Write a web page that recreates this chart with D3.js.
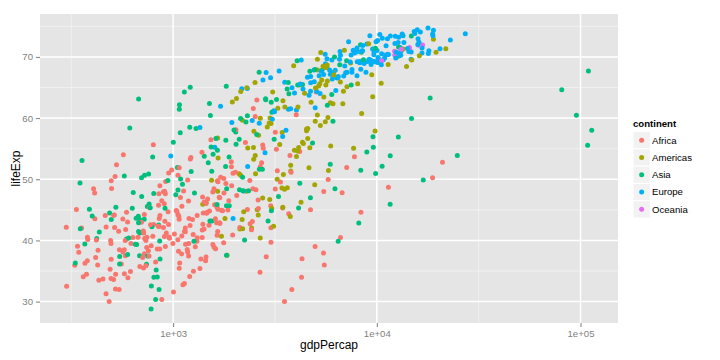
<!DOCTYPE html>
<html><head><meta charset="utf-8">
<script src="https://cdn.jsdelivr.net/npm/d3@7"></script>
<style>body{margin:0;background:#fff} text{font-family:"Liberation Sans",Arial,Helvetica,sans-serif}</style>
</head><body>
<svg id="chart" width="720" height="360"></svg>
<script>
const years = [1952, 1957, 1962, 1967, 1972];
const continents = ["Africa", "Americas", "Asia", "Europe", "Oceania"];
const continentColors = ["#F8766D", "#A3A500", "#00BF7D", "#00B0F6", "#E76BF3"];
const xTicks = [1e3, 1e4, 1e5];
const xTickLabels = ["1e+03", "1e+04", "1e+05"];
const yTicks = [30, 40, 50, 60, 70];

const countries = [
"Afghanistan","Albania","Algeria","Angola","Argentina","Australia","Austria","Bahrain","Bangladesh","Belgium",
"Benin","Bolivia","Bosnia and Herzegovina","Botswana","Brazil","Bulgaria","Burkina Faso","Burundi","Cambodia","Cameroon",
"Canada","Central African Republic","Chad","Chile","China","Colombia","Comoros","Congo, Dem. Rep.","Congo, Rep.","Costa Rica",
"Cote d'Ivoire","Croatia","Cuba","Czech Republic","Denmark","Djibouti","Dominican Republic","Ecuador","Egypt","El Salvador",
"Equatorial Guinea","Eritrea","Ethiopia","Finland","France","Gabon","Gambia","Germany","Ghana","Greece",
"Guatemala","Guinea","Guinea-Bissau","Haiti","Honduras","Hong Kong, China","Hungary","Iceland","India","Indonesia",
"Iran","Iraq","Ireland","Israel","Italy","Jamaica","Japan","Jordan","Kenya","Korea, Dem. Rep.",
"Korea, Rep.","Kuwait","Lebanon","Lesotho","Liberia","Libya","Madagascar","Malawi","Malaysia","Mali",
"Mauritania","Mauritius","Mexico","Mongolia","Montenegro","Morocco","Mozambique","Myanmar","Namibia","Nepal",
"Netherlands","New Zealand","Nicaragua","Niger","Nigeria","Norway","Oman","Pakistan","Panama","Paraguay",
"Peru","Philippines","Poland","Portugal","Puerto Rico","Reunion","Romania","Rwanda","Sao Tome and Principe","Saudi Arabia",
"Senegal","Serbia","Sierra Leone","Singapore","Slovak Republic","Slovenia","Somalia","South Africa","Spain","Sri Lanka",
"Sudan","Swaziland","Sweden","Switzerland","Syria","Taiwan","Tanzania","Thailand","Togo","Trinidad and Tobago",
"Tunisia","Turkey","Uganda","United Kingdom","United States","Uruguay","Venezuela","Vietnam","West Bank and Gaza","Yemen, Rep.",
"Zambia","Zimbabwe"];

const continentOf = [
"Asia","Europe","Africa","Africa","Americas","Oceania","Europe","Asia","Asia","Europe",
"Africa","Americas","Europe","Africa","Americas","Europe","Africa","Africa","Asia","Africa",
"Americas","Africa","Africa","Americas","Asia","Americas","Africa","Africa","Africa","Americas",
"Africa","Europe","Americas","Europe","Europe","Africa","Americas","Americas","Africa","Americas",
"Africa","Africa","Africa","Europe","Europe","Africa","Africa","Europe","Africa","Europe",
"Americas","Africa","Africa","Americas","Americas","Asia","Europe","Europe","Asia","Asia",
"Asia","Asia","Europe","Asia","Europe","Americas","Asia","Asia","Africa","Asia",
"Asia","Asia","Asia","Africa","Africa","Africa","Africa","Africa","Asia","Africa",
"Africa","Africa","Americas","Asia","Europe","Africa","Africa","Asia","Africa","Asia",
"Europe","Oceania","Americas","Africa","Africa","Europe","Asia","Asia","Americas","Americas",
"Americas","Asia","Europe","Europe","Americas","Africa","Europe","Africa","Africa","Asia",
"Africa","Europe","Africa","Asia","Europe","Europe","Africa","Africa","Europe","Asia",
"Africa","Africa","Europe","Europe","Asia","Asia","Africa","Asia","Africa","Americas",
"Africa","Europe","Africa","Europe","Americas","Americas","Americas","Asia","Asia","Asia",
"Africa","Africa"];

// gdpPercap per country for 1952,1957,1962,1967,1972
const gdpPercap = [
[779.4,820.9,853.1,836.2,740.0], // Afghanistan
[1601.1,1942.3,2312.9,2760.2,3313.4], // Albania
[2449.0,3014.0,2550.8,3247.0,4182.7], // Algeria
[3520.6,3827.9,4269.3,5522.8,5473.3], // Angola
[5911.3,6856.9,7133.2,8053.0,9443.0], // Argentina
[10039.6,10949.6,12217.2,14526.1,16788.6], // Australia
[6137.1,8842.6,10750.7,12834.6,16661.6], // Austria
[9867.1,11635.8,12753.3,14804.7,18268.7], // Bahrain
[684.2,661.6,686.3,721.2,630.2], // Bangladesh
[8343.1,9715.0,10991.2,13149.0,16672.1], // Belgium
[1062.8,959.6,949.5,1035.8,1085.8], // Benin
[2677.3,2127.7,2181.0,2586.9,2980.3], // Bolivia
[973.5,1354.0,1709.7,2172.4,2860.2], // Bosnia
[851.2,918.2,983.7,1214.7,2263.6], // Botswana
[2108.9,2487.4,3336.6,3429.9,4985.7], // Brazil
[2444.3,3008.7,4254.3,5577.0,6597.5], // Bulgaria
[543.3,617.2,722.5,794.8,854.7], // Burkina Faso
[339.3,379.6,355.2,413.0,464.1], // Burundi
[368.5,434.0,496.9,523.4,421.6], // Cambodia
[1172.7,1313.0,1399.6,1508.5,1684.1], // Cameroon
[11367.2,12490.0,13462.5,16076.6,18970.6], // Canada
[1071.3,1190.8,1193.1,1136.1,1070.0], // CAR
[1178.7,1308.5,1389.8,1196.8,1104.1], // Chad
[3940.0,4315.6,4519.1,5106.7,5494.0], // Chile
[400.4,576.0,487.7,612.7,676.9], // China
[2144.1,2323.8,2492.4,2678.7,3264.7], // Colombia
[1103.0,1211.1,1406.6,1876.0,1937.6], // Comoros
[780.5,905.9,896.3,861.6,904.9], // Congo DR
[2125.6,2315.1,2464.8,2677.9,3213.2], // Congo R
[2627.0,2990.0,3460.9,4161.7,5118.1], // Costa Rica
[1388.6,1500.9,1728.9,2052.1,2378.2], // Cote d'Ivoire
[3119.2,4338.2,5477.9,6960.3,9164.1], // Croatia
[5586.5,6092.2,5180.8,5690.3,5305.4], // Cuba
[6876.1,8256.3,10136.9,11399.4,13108.5], // Czech
[9692.4,11099.7,13583.3,15937.2,18866.2], // Denmark
[2669.5,2865.0,3021.0,3020.1,3694.2], // Djibouti
[1397.7,1544.4,1662.1,1653.7,2189.9], // Dominican
[3522.1,3780.5,4086.1,4579.1,5281.0], // Ecuador
[1418.8,1458.9,1693.3,1814.9,2024.0], // Egypt
[3048.3,3421.5,3776.8,4358.6,4520.2], // El Salvador
[375.6,426.1,582.8,915.6,672.4], // Eq Guinea
[328.9,344.2,381.0,468.8,514.3], // Eritrea
[362.1,378.9,419.5,516.1,566.2], // Ethiopia
[6424.5,7545.4,9371.8,10921.6,14358.9], // Finland
[7029.8,8662.8,10560.5,12999.9,16107.2], // France
[4293.5,4976.2,6631.5,8358.8,11402.0], // Gabon
[485.2,520.9,599.7,734.8,756.1], // Gambia
[7144.1,10187.8,12902.5,14745.6,18016.2], // Germany
[911.3,1043.6,1190.0,1125.7,1178.2], // Ghana
[3530.7,4916.3,6017.2,8513.1,12724.8], // Greece
[2428.2,2617.2,2750.4,3242.5,4031.4], // Guatemala
[510.2,576.3,686.4,708.8,741.7], // Guinea
[299.9,431.8,522.0,715.6,820.2], // Guinea-Bissau
[1840.4,1726.9,1796.6,1452.1,1654.5], // Haiti
[2194.9,2220.5,2291.2,2538.3,2529.8], // Honduras
[3054.4,3629.1,4692.6,6198.0,8315.9], // Hong Kong
[5263.7,6040.2,7550.4,9326.6,10168.7], // Hungary
[7267.7,9244.0,10350.2,13319.9,15798.1], // Iceland
[546.6,590.1,658.3,700.8,724.0], // India
[749.7,858.9,849.3,762.4,1111.1], // Indonesia
[3035.3,3290.3,4187.3,5906.7,9613.8], // Iran
[4129.8,6229.3,8341.7,8931.5,9576.0], // Iraq
[5210.3,5599.1,6631.6,7655.6,9530.8], // Ireland
[4086.5,5385.3,7105.6,8393.7,12786.9], // Israel
[4931.4,6248.7,8243.6,10022.4,12269.3], // Italy
[2898.5,4756.5,5246.1,6124.7,7433.9], // Jamaica
[3217.0,4317.7,6576.6,9847.8,14778.8], // Japan
[1546.9,1886.1,2348.0,2741.8,2110.9], // Jordan
[853.5,944.4,897.0,1056.7,1222.4], // Kenya
[1088.3,1571.1,1621.7,2143.5,3701.6], // Korea DR
[1030.6,1487.6,1536.3,2029.2,3030.9], // Korea R
[108382.4,113523.1,95458.1,80894.9,109347.9], // Kuwait
[4834.8,6089.8,5714.6,6007.0,7486.4], // Lebanon
[298.8,335.0,411.8,498.6,496.6], // Lesotho
[575.6,621.0,634.2,713.6,803.0], // Liberia
[2387.5,3448.3,6757.0,18772.8,21011.5], // Libya
[1443.0,1589.2,1643.4,1634.0,1748.6], // Madagascar
[369.2,416.4,427.9,495.5,584.6], // Malawi
[1831.1,1810.1,2036.9,2277.7,2849.1], // Malaysia
[452.3,490.4,496.2,545.0,581.4], // Mali
[743.1,846.1,1055.9,1421.1,1586.9], // Mauritania
[1968.0,2034.0,2529.1,2475.4,2575.5], // Mauritius
[3478.1,4131.5,4581.6,5754.7,6809.4], // Mexico
[786.6,912.7,1056.4,1226.0,1421.7], // Mongolia
[2647.6,3682.3,4649.6,5907.9,7778.4], // Montenegro
[1688.2,1642.0,1566.4,1711.0,1930.2], // Morocco
[468.5,495.6,556.7,566.7,724.9], // Mozambique
[331.0,350.0,388.0,349.0,357.0], // Myanmar
[2423.8,2621.4,3173.2,3793.7,3746.1], // Namibia
[545.9,597.9,652.4,676.4,674.8], // Nepal
[8941.6,11276.2,12790.8,15363.3,18794.7], // Netherlands
[10556.6,12247.4,13175.7,14463.9,16046.0], // New Zealand
[3112.4,3457.4,3634.4,4643.4,4688.6], // Nicaragua
[761.9,835.5,997.8,1054.4,954.2], // Niger
[1077.3,1100.6,1150.9,1014.5,1698.4], // Nigeria
[10095.4,11654.0,13450.4,16361.9,18965.1], // Norway
[1828.2,2242.7,2924.6,4720.9,10618.0], // Oman
[684.6,747.1,803.3,942.4,1049.9], // Pakistan
[2480.4,2961.8,3536.5,4421.0,5364.2], // Panama
[1952.3,2046.2,2148.0,2299.4,2523.3], // Paraguay
[3758.5,4245.3,4957.0,5788.1,5937.8], // Peru
[1272.9,1547.9,1649.6,1814.1,1989.4], // Philippines
[4029.3,4734.3,5338.8,6557.2,8006.5], // Poland
[3068.3,3774.6,4728.0,6361.5,9022.2], // Portugal
[3082.0,3907.2,5108.3,6929.3,9123.0], // Puerto Rico
[2718.9,2769.5,3173.7,4021.2,5047.7], // Reunion
[3144.6,3943.4,4734.0,6470.9,8011.4], // Romania
[493.3,540.3,597.5,511.0,590.6], // Rwanda
[879.6,860.7,1071.6,1384.8,1533.0], // Sao Tome
[6459.6,8157.6,11626.4,16903.0,24837.4], // Saudi Arabia
[1450.4,1567.7,1655.0,1612.4,1597.7], // Senegal
[3581.5,4981.1,6289.6,7991.7,10522.1], // Serbia
[879.8,1004.5,1116.6,1206.0,1353.8], // Sierra Leone
[2315.1,2843.1,3674.7,4977.4,8597.8], // Singapore
[5074.7,6093.3,7481.1,8412.9,9674.2], // Slovak
[4215.0,5862.3,7402.3,9405.5,12383.5], // Slovenia
[1135.7,1258.1,1369.5,1284.7,1254.6], // Somalia
[4725.3,5487.1,5768.7,7114.5,7766.0], // South Africa
[3834.0,4564.8,5693.8,7993.5,10638.8], // Spain
[1083.5,1072.5,1074.5,1135.5,1213.4], // Sri Lanka
[1616.0,1770.3,1959.6,1688.0,1659.7], // Sudan
[1148.4,1244.7,1856.2,2613.1,3364.8], // Swaziland
[8527.8,9911.9,12329.4,15258.3,17832.0], // Sweden
[14734.2,17909.5,20431.1,22966.1,27195.1], // Switzerland
[1643.5,2117.2,2193.0,1881.9,2571.4], // Syria
[1207.0,1507.9,1822.9,2643.9,4062.5], // Taiwan
[716.7,698.5,722.0,848.2,916.0], // Tanzania
[757.8,793.6,1002.2,1295.5,1524.4], // Thailand
[859.8,925.9,1067.5,1477.6,1649.7], // Togo
[3023.3,4100.4,4997.5,5621.4,6619.6], // Trinidad
[1468.5,1395.2,1660.3,1932.4,2753.3], // Tunisia
[1969.1,2218.8,2322.9,2826.4,3450.7], // Turkey
[734.8,774.4,767.3,908.9,950.7], // Uganda
[9979.5,11283.2,12477.2,14142.9,15895.1], // UK
[13990.5,14847.1,16173.1,19530.4,21806.0], // US
[5716.8,6150.8,5603.4,5444.6,5703.4], // Uruguay
[7689.8,9802.5,8423.0,9541.5,10505.3], // Venezuela
[605.1,676.3,772.0,637.1,699.5], // Vietnam
[1515.6,1827.1,2199.0,2649.7,3133.4], // West Bank
[781.7,804.8,825.6,862.4,1265.0], // Yemen
[1147.4,1312.0,1452.7,1777.1,1773.5], // Zambia
[406.9,518.8,527.3,569.8,799.4] // Zimbabwe
];

// lifeExp per country for 1952,1957,1962,1967,1972
const lifeExp = [
[28.80,30.33,32.00,34.02,36.09], // Afghanistan
[55.23,59.28,64.82,66.22,67.69], // Albania
[43.08,45.69,48.30,51.41,54.52], // Algeria
[30.02,32.00,34.00,35.99,37.93], // Angola
[62.49,64.40,65.14,65.63,67.07], // Argentina
[69.12,70.33,70.93,71.10,71.93], // Australia
[66.80,67.48,69.54,70.14,70.63], // Austria
[50.94,53.83,56.92,59.92,63.30], // Bahrain
[37.48,39.35,41.22,43.45,45.25], // Bangladesh
[68.00,69.24,70.25,70.94,71.44], // Belgium
[38.22,40.36,42.62,44.89,47.01], // Benin
[40.41,41.89,43.43,45.03,46.71], // Bolivia
[53.82,58.45,61.93,64.79,67.45], // Bosnia
[47.62,49.62,51.52,53.30,56.02], // Botswana
[50.92,53.29,55.67,57.63,59.50], // Brazil
[59.60,66.61,69.51,70.42,70.90], // Bulgaria
[31.98,34.91,37.81,40.70,43.59], // Burkina Faso
[39.03,40.53,42.05,43.55,44.06], // Burundi
[39.42,41.37,43.42,45.42,40.32], // Cambodia
[38.52,40.43,42.64,44.80,47.05], // Cameroon
[68.75,69.96,71.30,72.13,72.88], // Canada
[35.46,37.46,39.48,41.48,43.46], // CAR
[38.09,39.88,41.72,43.60,45.57], // Chad
[54.75,56.07,57.92,60.52,63.44], // Chile
[44.00,50.55,44.50,58.38,63.12], // China
[50.64,55.12,57.86,59.96,61.62], // Colombia
[40.72,42.46,44.47,46.47,48.94], // Comoros
[39.14,40.65,42.12,44.06,45.99], // Congo DR
[42.11,45.05,48.44,52.04,54.91], // Congo R
[57.21,60.03,62.84,65.42,67.85], // Costa Rica
[40.48,42.47,44.93,47.35,49.80], // Cote d'Ivoire
[61.21,64.77,67.13,68.50,69.61], // Croatia
[59.42,62.33,65.25,68.29,70.72], // Cuba
[66.87,69.03,69.90,70.38,70.29], // Czech
[70.78,71.81,72.35,72.96,73.47], // Denmark
[34.81,37.33,39.69,42.07,44.37], // Djibouti
[45.93,49.83,53.46,56.75,59.63], // Dominican
[48.36,51.36,54.64,56.68,58.80], // Ecuador
[41.89,44.44,46.99,49.29,51.14], // Egypt
[45.26,48.57,52.31,55.86,58.21], // El Salvador
[34.48,35.98,37.49,38.99,40.52], // Eq Guinea
[35.93,38.05,40.16,42.19,44.14], // Eritrea
[34.08,36.67,40.06,42.12,43.52], // Ethiopia
[66.55,67.49,68.75,69.83,70.87], // Finland
[67.41,68.93,70.51,71.55,72.38], // France
[37.00,39.00,40.49,44.60,48.69], // Gabon
[30.00,32.07,33.90,35.86,38.31], // Gambia
[67.50,69.10,70.30,70.80,71.00], // Germany
[43.15,44.78,46.45,48.07,49.88], // Ghana
[65.86,67.86,69.51,71.00,72.34], // Greece
[42.02,44.14,46.95,50.02,53.74], // Guatemala
[33.61,34.56,35.75,37.20,38.84], // Guinea
[32.50,33.49,34.49,35.49,36.49], // Guinea-Bissau
[37.58,40.70,43.59,46.24,48.04], // Haiti
[41.91,44.67,48.04,50.92,53.88], // Honduras
[60.96,64.75,67.65,70.00,72.00], // Hong Kong
[64.03,66.41,67.96,69.50,69.76], // Hungary
[72.49,73.47,73.68,73.73,74.46], // Iceland
[37.37,40.25,43.61,47.19,50.65], // India
[37.47,39.92,42.52,45.96,49.20], // Indonesia
[44.87,47.18,49.33,52.47,55.23], // Iran
[45.32,48.44,51.46,54.46,56.95], // Iraq
[66.91,68.90,70.29,71.08,71.28], // Ireland
[65.39,67.84,69.39,70.75,71.63], // Israel
[65.94,67.81,69.24,71.06,72.19], // Italy
[58.53,62.61,65.61,67.51,69.00], // Jamaica
[63.03,65.50,68.73,71.43,73.42], // Japan
[43.16,45.67,48.13,51.63,56.53], // Jordan
[42.27,44.69,47.95,50.65,53.56], // Kenya
[50.06,54.08,56.66,59.94,63.98], // Korea DR
[47.45,52.68,55.29,57.72,62.61], // Korea R
[55.57,58.03,60.47,64.62,67.71], // Kuwait
[55.93,59.49,62.09,63.87,65.42], // Lebanon
[42.14,45.05,47.75,48.49,49.77], // Lesotho
[38.48,39.49,40.50,41.54,42.61], // Liberia
[42.72,45.29,47.81,50.23,52.77], // Libya
[36.68,38.87,40.85,42.88,44.85], // Madagascar
[36.26,37.21,38.41,39.49,41.77], // Malawi
[48.46,52.10,55.74,59.37,63.01], // Malaysia
[33.69,35.31,36.94,38.49,39.98], // Mali
[40.54,42.34,44.25,46.29,48.44], // Mauritania
[50.99,58.09,60.25,61.56,62.94], // Mauritius
[50.79,55.19,58.30,60.11,62.36], // Mexico
[42.24,45.25,48.25,51.25,53.75], // Mongolia
[59.16,61.45,63.73,67.18,70.64], // Montenegro
[42.87,45.42,47.92,50.34,52.86], // Morocco
[31.29,33.78,36.16,38.11,40.33], // Mozambique
[36.32,41.91,45.11,49.38,53.07], // Myanmar
[41.73,45.23,48.39,51.16,53.87], // Namibia
[36.16,37.69,39.39,41.47,43.97], // Nepal
[72.13,72.99,73.23,73.82,73.75], // Netherlands
[69.39,70.26,71.24,71.52,71.89], // New Zealand
[42.31,45.43,48.63,51.88,55.15], // Nicaragua
[37.44,38.60,39.49,40.12,40.55], // Niger
[36.32,37.80,39.36,41.04,42.82], // Nigeria
[72.67,73.44,73.47,74.08,74.34], // Norway
[37.58,40.08,43.17,46.99,52.14], // Oman
[43.44,45.56,47.67,49.80,51.93], // Pakistan
[55.19,59.20,61.82,64.07,66.22], // Panama
[62.65,63.20,64.36,64.95,65.82], // Paraguay
[43.90,46.26,49.10,51.45,55.45], // Peru
[47.75,51.33,54.76,56.39,58.07], // Philippines
[61.31,65.77,67.64,69.61,70.85], // Poland
[59.82,61.51,64.39,66.60,69.26], // Portugal
[64.28,68.54,69.62,71.10,72.16], // Puerto Rico
[52.72,55.09,57.67,60.54,64.27], // Reunion
[61.05,64.10,66.80,66.80,69.21], // Romania
[40.00,41.50,43.00,44.10,44.60], // Rwanda
[46.47,48.95,51.89,54.43,56.48], // Sao Tome
[39.88,42.87,45.91,49.90,53.89], // Saudi Arabia
[37.28,39.33,41.45,43.56,45.82], // Senegal
[58.00,61.69,64.53,66.91,68.70], // Serbia
[30.33,31.57,32.77,34.11,35.40], // Sierra Leone
[60.40,63.18,65.80,67.95,69.52], // Singapore
[64.36,67.45,70.33,70.98,70.35], // Slovak
[65.57,67.85,69.15,69.18,69.82], // Slovenia
[32.98,34.98,36.98,38.98,40.97], // Somalia
[45.01,47.99,49.95,51.93,53.70], // South Africa
[64.94,66.66,69.69,71.44,73.06], // Spain
[57.59,61.46,62.19,64.27,65.04], // Sri Lanka
[38.64,39.62,40.87,42.86,45.08], // Sudan
[41.41,43.42,44.99,46.63,49.55], // Swaziland
[71.86,72.49,73.37,74.16,74.72], // Sweden
[69.62,70.56,71.32,72.77,73.78], // Switzerland
[45.88,48.28,50.31,53.66,57.30], // Syria
[58.50,62.40,65.20,67.50,69.39], // Taiwan
[41.22,42.97,44.25,45.76,47.62], // Tanzania
[50.85,53.63,56.06,58.29,60.41], // Thailand
[38.60,41.21,43.92,46.77,49.76], // Togo
[59.10,61.80,64.90,65.40,65.90], // Trinidad
[44.60,47.10,49.58,52.05,55.60], // Tunisia
[43.59,48.08,52.10,54.34,57.01], // Turkey
[39.98,42.57,45.34,48.05,51.02], // Uganda
[69.18,70.42,70.76,71.36,72.01], // UK
[68.44,69.49,70.21,70.76,71.34], // US
[66.07,67.04,68.25,68.47,68.67], // Uruguay
[55.09,57.91,60.77,63.48,65.71], // Venezuela
[40.41,42.89,45.36,47.84,50.25], // Vietnam
[43.16,45.67,48.13,51.63,56.53], // West Bank
[32.55,33.97,35.18,36.98,39.85], // Yemen
[42.04,44.08,46.02,47.77,50.11], // Zambia
[48.45,50.47,52.36,54.00,55.64] // Zimbabwe
];

// ---------- drawing ----------
const svg = d3.select("#chart");
const P = {l: 40, r: 618, t: 14, b: 323};
const color = d3.scaleOrdinal().domain(continents).range(continentColors);

const points = [];
countries.forEach((c, i) => years.forEach((yr, j) => points.push({
  country: c, year: yr, continent: continentOf[i], gdp: gdpPercap[i][j], life: lifeExp[i][j]
})));

const lx = d3.extent(points, d => Math.log10(d.gdp));
const ex = (lx[1] - lx[0]) * 0.05;
const x = d3.scaleLog().domain([Math.pow(10, lx[0] - ex), Math.pow(10, lx[1] + ex)]).range([P.l, P.r]);
const ly = d3.extent(points, d => d.life);
const ey = (ly[1] - ly[0]) * 0.05;
const y = d3.scaleLinear().domain([ly[0] - ey, ly[1] + ey]).range([P.b, P.t]);

svg.append("rect").attr("x", P.l).attr("y", P.t).attr("width", P.r - P.l).attr("height", P.b - P.t).attr("fill", "#E5E5E5");

// minor grid
const xMinor = xTicks.map(v => v / Math.sqrt(10)).concat([xTicks[xTicks.length - 1] * Math.sqrt(10)])
  .filter(v => x(v) > P.l && x(v) < P.r);
const yMinor = [yTicks[0] - 5].concat(yTicks.map(v => v + 5)).filter(v => y(v) > P.t && y(v) < P.b);
const grid = svg.append("g");
grid.selectAll(".xm").data(xMinor).enter().append("line")
  .attr("x1", d => x(d)).attr("x2", d => x(d)).attr("y1", P.t).attr("y2", P.b)
  .attr("stroke", "#F2F2F2").attr("stroke-width", 0.8);
grid.selectAll(".ym").data(yMinor).enter().append("line")
  .attr("y1", d => y(d)).attr("y2", d => y(d)).attr("x1", P.l).attr("x2", P.r)
  .attr("stroke", "#F2F2F2").attr("stroke-width", 0.8);
grid.selectAll(".xM").data(xTicks).enter().append("line")
  .attr("x1", d => x(d)).attr("x2", d => x(d)).attr("y1", P.t).attr("y2", P.b)
  .attr("stroke", "#FFFFFF").attr("stroke-width", 1.5);
grid.selectAll(".yM").data(yTicks).enter().append("line")
  .attr("y1", d => y(d)).attr("y2", d => y(d)).attr("x1", P.l).attr("x2", P.r)
  .attr("stroke", "#FFFFFF").attr("stroke-width", 1.5);

// points
svg.append("g").selectAll("circle").data(points).enter().append("circle")
  .attr("cx", d => x(d.gdp)).attr("cy", d => y(d.life)).attr("r", 2.5)
  .attr("fill", d => color(d.continent));

// axes
const xAxis = svg.append("g").attr("transform", `translate(0,${P.b})`)
  .call(d3.axisBottom(x).tickValues(xTicks).tickFormat((d, i) => xTickLabels[i]).tickSize(4).tickPadding(3));
const yAxis = svg.append("g").attr("transform", `translate(${P.l},0)`)
  .call(d3.axisLeft(y).tickValues(yTicks).tickFormat(d3.format("d")).tickSize(4).tickPadding(3));
[xAxis, yAxis].forEach(a => {
  a.select(".domain").remove();
  a.selectAll(".tick line").attr("stroke", "#7F7F7F").attr("stroke-width", 1);
  a.selectAll(".tick text").attr("fill", "#7F7F7F").style("font-size", "9.6px")
    .style("font-family", "'Liberation Sans', Arial, sans-serif");
});

// axis titles
svg.append("text").attr("x", (P.l + P.r) / 2).attr("y", 349).attr("text-anchor", "middle")
  .style("font-size", "12px").attr("fill", "#000").text("gdpPercap");
svg.append("text").attr("transform", `translate(20,${(P.t + P.b) / 2}) rotate(-90)`).attr("text-anchor", "middle")
  .style("font-size", "12px").attr("fill", "#000").text("lifeExp");

// legend
const lg = svg.append("g").attr("transform", "translate(633,0)");
lg.append("text").attr("x", 0).attr("y", 127).style("font-size", "9.6px").style("font-weight", "bold").text("continent");
const ks = 17.3, k0 = 131.5;
continents.forEach((c, i) => {
  const yy = k0 + i * ks;
  lg.append("rect").attr("x", 0).attr("y", yy).attr("width", ks).attr("height", ks)
    .attr("fill", "#F2F2F2").attr("stroke", "#FFFFFF").attr("stroke-width", 1);
  lg.append("circle").attr("cx", ks / 2).attr("cy", yy + ks / 2).attr("r", 2.5).attr("fill", color(c));
  lg.append("text").attr("x", 19).attr("y", yy + ks / 2).attr("dy", "0.35em")
    .style("font-size", "9.6px").attr("fill", "#000").text(c);
});
</script>
</body></html>
